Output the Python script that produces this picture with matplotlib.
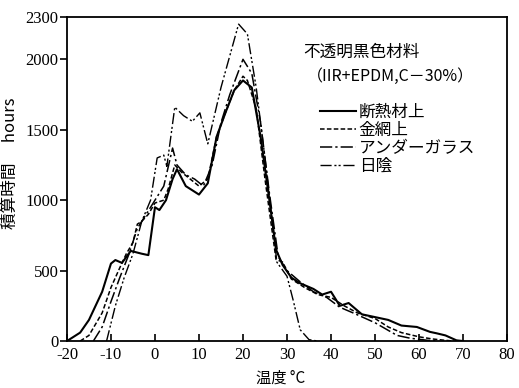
import matplotlib
matplotlib.use('Agg')
import matplotlib.pyplot as plt

JP = ['Noto Sans CJK JP', 'DejaVu Sans']
NUM = 'Liberation Serif'

# 断熱材上 (solid)
t_insul = [-20, -17, -15, -12, -10, -9, -7.5, -5.5, -3, -1.5, 0, 1, 2.5, 4, 5, 7, 10, 12,
           14, 16, 18, 20, 22, 24, 26, 27.5, 29, 31, 33, 36, 38, 40, 42, 44, 47, 50, 53,
           56, 59.5, 62.5, 64, 66, 68.5, 70]
h_insul = [0, 60, 150, 350, 550, 575, 555, 640, 620, 610, 950, 930, 1000, 1150, 1220, 1100,
           1040, 1120, 1450, 1620, 1780, 1850, 1800, 1450, 1000, 650, 540, 450, 410, 370,
           330, 350, 250, 270, 190, 170, 150, 110, 100, 65, 55, 40, 5, 0]

# 金網上 (dashed)
t_mesh = [-17, -15, -12, -10, -8, -6.5, -5, -4, -3, -1.5, 0, 2, 3, 4.5, 6, 8, 10, 12, 14,
          16, 18, 20, 21, 23, 25, 27.5, 29, 31, 34, 37, 40, 43, 46, 50, 53, 56, 60, 63, 66, 68]
h_mesh = [0, 40, 200, 380, 520, 620, 700, 830, 850, 900, 980, 1000, 1080, 1250, 1200, 1150,
          1100, 1150, 1450, 1620, 1780, 1880, 1850, 1650, 1150, 580, 560, 440, 380, 330,
          310, 250, 200, 160, 100, 60, 30, 15, 5, 0]

# アンダーガラス (dash-dot)
t_glass = [-14, -12, -10, -8, -6, -4, -2, 0, 2, 4, 5, 7, 9, 11, 13, 15, 17, 20, 22, 24, 26,
           28, 30, 33, 36, 39, 42, 45, 50, 55, 58, 62, 64]
h_glass = [0, 100, 280, 450, 610, 800, 900, 1000, 1100, 1370, 1250, 1180, 1150, 1100, 1250,
           1550, 1750, 2000, 1900, 1550, 1050, 600, 500, 420, 350, 310, 240, 200, 130, 40,
           20, 5, 0]

# 日陰 (dash-dot-dot)
t_shade = [-11, -9, -7, -5, -3, -1, 0.5, 2, 2.7, 4.5, 6.5, 8.5, 10.2, 12, 15, 19, 21, 23,
           25, 27.7, 30, 31.4, 33, 35, 37]
h_shade = [0, 250, 450, 620, 850, 1000, 1300, 1320, 1240, 1660, 1600, 1560, 1620, 1400, 1800,
           2250, 2180, 1800, 1300, 560, 460, 290, 80, 10, 0]

labels = ['断熱材上', '金網上', 'アンダーガラス', '日陰']
x_ticks = [-20, -10, 0, 10, 20, 30, 40, 50, 60, 70, 80]
y_ticks = [0, 500, 1000, 1500, 2000, 2300]

fig = plt.figure(figsize=(5.19, 3.88), dpi=100)
ax = fig.add_axes([0.129, 0.121, 0.848, 0.835])

ax.plot(t_insul, h_insul, color='black', lw=1.5, ls='-', label=labels[0])
ax.plot(t_mesh, h_mesh, color='black', lw=1.1, ls=(0, (3, 1.5)), label=labels[1])
ax.plot(t_glass, h_glass, color='black', lw=1.1, ls=(0, (8, 2, 1.5, 2)), label=labels[2])
ax.plot(t_shade, h_shade, color='black', lw=1.0, ls=(0, (8, 2, 1.5, 1.5, 1.5, 2)),
        label=labels[3])

ax.set_xlim(-20, 80)
ax.set_ylim(0, 2300)
ax.set_xticks(x_ticks)
ax.set_yticks(y_ticks)
ax.set_xticklabels([str(v) for v in x_ticks], family=NUM, fontsize=12)
ax.set_yticklabels([str(v) for v in y_ticks], family=NUM, fontsize=12)
ax.tick_params(axis='x', direction='in', length=5, width=1.2, pad=4)
ax.tick_params(axis='y', direction='out', length=5, width=1.2, pad=1)
for s in ax.spines.values():
    s.set_linewidth(1.3)

ax.set_xlabel('温度 °C', family=JP, fontsize=11)
ax.xaxis.set_label_coords(0.485, -0.088)
ax.set_ylabel('積算時間\u3000 hours', family=JP, fontsize=12)
ax.yaxis.set_label_coords(-0.109, 0.549)

ax.text(0.536, 0.892, '不透明黒色材料', transform=ax.transAxes, family=JP,
        fontsize=12, va='center')
ax.text(0.545, 0.818, '（IIR+EPDM,C－30%）', transform=ax.transAxes, family=JP,
        fontsize=11.5, va='center')

leg = ax.legend(loc='upper left', bbox_to_anchor=(0.555, 0.757), frameon=False,
                handlelength=2.2, handletextpad=0.15, labelspacing=0.05, borderpad=0,
                prop={'family': JP, 'size': 12})

fig.savefig('out.png', dpi=100)
